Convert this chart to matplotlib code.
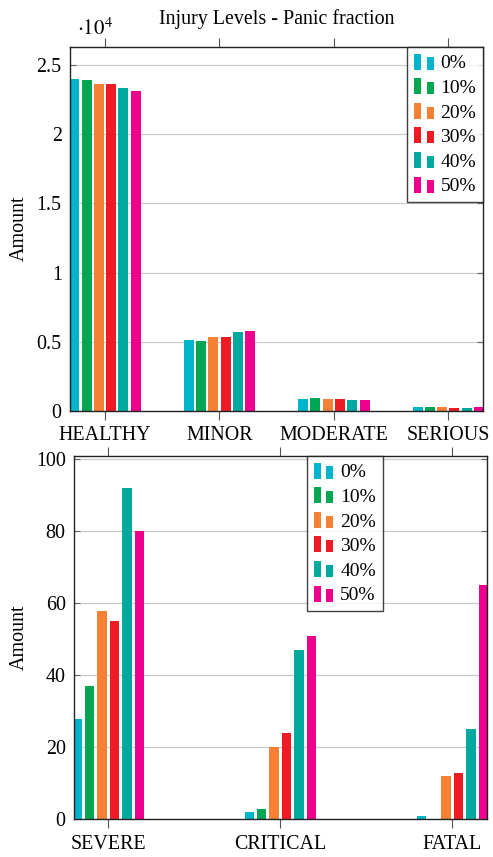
import matplotlib
matplotlib.use("Agg")
import matplotlib.pyplot as plt
import numpy as np
from matplotlib.legend_handler import HandlerBase
from matplotlib.patches import Rectangle
from matplotlib.ticker import FuncFormatter

plt.rcParams['font.family'] = ['Liberation Serif', 'DejaVu Serif']
plt.rcParams['mathtext.fontset'] = 'stix'

# ---------------- data ----------------
series = ["0%", "10%", "20%", "30%", "40%", "50%"]
colors = ["#00B4CC", "#00A651", "#F58137", "#ED1C24", "#00A99D", "#EC008C"]

top_categories = ["HEALTHY", "MINOR", "MODERATE", "SERIOUS"]
top_p0 = [23980, 5090, 870, 240]
top_p10 = [23960, 5020, 910, 250]
top_p20 = [23640, 5310, 860, 240]
top_p30 = [23640, 5360, 830, 230]
top_p40 = [23350, 5670, 780, 230]
top_p50 = [23160, 5770, 780, 240]

bot_categories = ["SEVERE", "CRITICAL", "FATAL"]
bot_p0 = [28, 2, 1]
bot_p10 = [37, 3, 0]
bot_p20 = [58, 20, 12]
bot_p30 = [55, 24, 13]
bot_p40 = [92, 47, 25]
bot_p50 = [80, 51, 65]

top_values = [top_p0, top_p10, top_p20, top_p30, top_p40, top_p50]
bot_values = [bot_p0, bot_p10, bot_p20, bot_p30, bot_p40, bot_p50]
top_yticks = [0, 5000, 10000, 15000, 20000, 25000]
bot_yticks = [0, 20, 40, 60, 80, 100]


class TwoBarHandler(HandlerBase):
    def create_artists(self, legend, orig_handle, xdescent, ydescent,
                       width, height, fontsize, trans):
        c = orig_handle.get_facecolor()
        w = width * 0.36
        r1 = Rectangle((-xdescent, -ydescent), w, height, facecolor=c,
                       edgecolor='none', transform=trans)
        r2 = Rectangle((-xdescent + width - w, -ydescent), w, height * 0.76,
                       facecolor=c, edgecolor='none', transform=trans)
        return [r1, r2]


W, H = 493, 857
fig = plt.figure(figsize=(W / 100, H / 100), dpi=100)

FS = 14.4
LFS = 14.0


def style_axes(ax):
    ax.set_axisbelow(True)
    ax.yaxis.grid(True, color='#c8c8c8', lw=0.9)
    for s in ax.spines.values():
        s.set_color('#222222')
        s.set_linewidth(1.0)
    ax.tick_params(axis='x', which='both', direction='out', length=6.5,
                   width=0.8, color='#555555', top=True, bottom=True,
                   labelsize=FS, pad=4.5)
    ax.tick_params(axis='y', which='both', direction='in', length=4,
                   width=0.8, color='#666666', left=True, right=True,
                   labelsize=FS, pad=6)


def make_legend(ax, handles, loc, anchor):
    leg = ax.legend(handles, series, loc=loc, bbox_to_anchor=anchor,
                    borderaxespad=0, fontsize=LFS, frameon=True, fancybox=False,
                    edgecolor='#111111', handlelength=1.0, handleheight=0.9,
                    handletextpad=0.35, labelspacing=0.3, borderpad=0.35,
                    handler_map={h: TwoBarHandler() for h in handles})
    leg.get_frame().set_linewidth(1.0)
    return leg


# ---------------- top axes ----------------
ax1 = fig.add_axes([70 / W, 1 - 410.7 / H, (483 - 70) / W, (410.7 - 46.7) / H])
x1 = np.arange(len(top_categories))
sp1, bw1 = 0.1075, 0.087
handles = []
for i, (vals, col, lab) in enumerate(zip(top_values, colors, series)):
    b = ax1.bar(x1 + (i - 2.5) * sp1, vals, bw1, color=col, label=lab,
                edgecolor='none')
    handles.append(b.patches[0])
ax1.set_xlim(-0.306, 3.303)
ax1.set_ylim(0, 26340)
ax1.set_xticks(x1)
ax1.set_xticklabels(top_categories)
ax1.set_yticks(top_yticks)
ax1.yaxis.set_major_formatter(FuncFormatter(lambda v, p: "%g" % (v / 1e4)))
style_axes(ax1)
ax1.set_ylabel("Amount", fontsize=FS)
ax1.yaxis.set_label_coords(-0.099, 0.5)
make_legend(ax1, handles, 'upper right', (1.0, 1.0))
fig.text(77 / W, 1 - 35 / H, r"$\cdot 10^4$", fontsize=15, ha='left',
         va='baseline')
fig.text(276.5 / W, 1 - 24 / H, "Injury Levels - Panic fraction", fontsize=FS,
         ha='center', va='baseline')

# ---------------- bottom axes ----------------
ax2 = fig.add_axes([74 / W, 1 - 819.3 / H, (486.7 - 74) / W, (819.3 - 455.7) / H])
x2 = np.arange(len(bot_categories))
sp2, bw2 = 0.0722, 0.055
handles2 = []
for i, (vals, col, lab) in enumerate(zip(bot_values, colors, series)):
    b = ax2.bar(x2 + (i - 2.5) * sp2, vals, bw2, color=col, label=lab,
                edgecolor='none')
    handles2.append(b.patches[0])
ax2.set_xlim(-0.2, 2.2)
ax2.set_ylim(0, 101)
ax2.set_xticks(x2)
ax2.set_xticklabels(bot_categories)
ax2.set_yticks(bot_yticks)
style_axes(ax2)
ax2.set_ylabel("Amount", fontsize=FS)
ax2.yaxis.set_label_coords(-0.109, 0.5)
make_legend(ax2, handles2, 'upper left', (0.565, 1.0))

fig.savefig("out.png", dpi=100)
